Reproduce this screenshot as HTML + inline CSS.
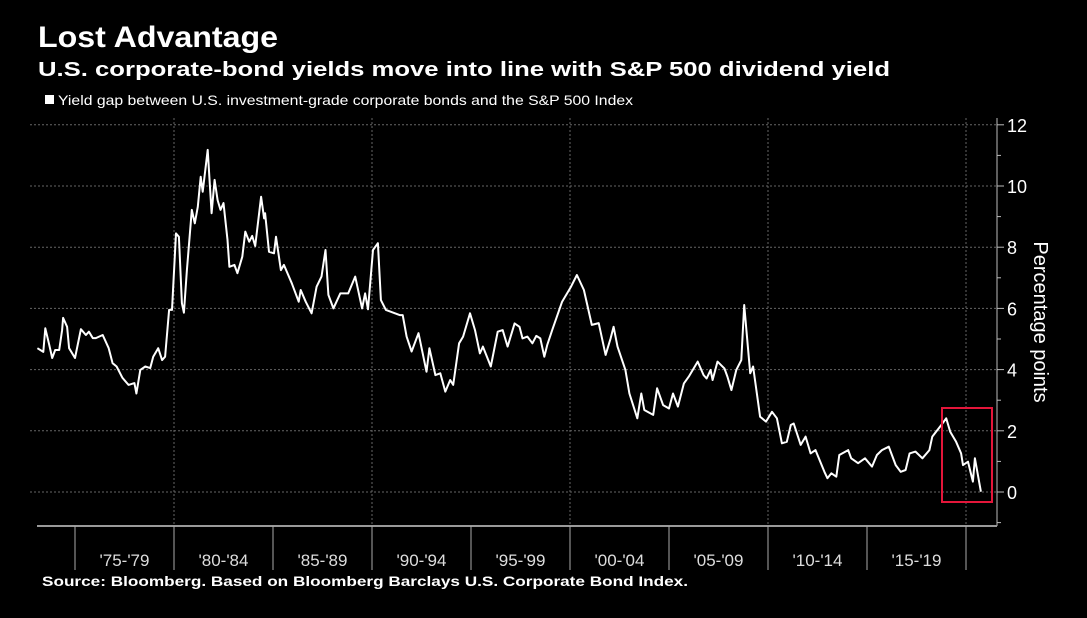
<!DOCTYPE html>
<html><head><meta charset="utf-8"><style>
html,body{margin:0;padding:0;background:#000;}
svg{display:block;font-family:"Liberation Sans",sans-serif;}
</style></head><body>
<svg id="chart" width="1087" height="618" viewBox="0 0 1087 618">
<rect width="1087" height="618" fill="#000"/>
<text x="38" y="47" fill="#fff" font-size="30" font-weight="bold" textLength="240" lengthAdjust="spacingAndGlyphs">Lost Advantage</text>
<text x="38" y="76" fill="#fff" font-size="20" font-weight="bold" textLength="852" lengthAdjust="spacingAndGlyphs">U.S. corporate-bond yields move into line with S&amp;P 500 dividend yield</text>
<rect x="45" y="95" width="9" height="9" fill="#fff"/>
<text x="58" y="105" fill="#fff" font-size="14" textLength="575" lengthAdjust="spacingAndGlyphs">Yield gap between U.S. investment-grade corporate bonds and the S&amp;P 500 Index</text>
<g id="grid"></g>
<g id="axes"></g>
<path id="line" fill="none" stroke="#fff" stroke-width="2" stroke-linejoin="round"/>
<rect x="942" y="408" width="50" height="94" fill="none" stroke="#e4163a" stroke-width="2"/>
<text transform="translate(1034,322) rotate(90)" fill="#fff" font-size="20" text-anchor="middle">Percentage points</text>
<text x="42" y="586" fill="#fff" font-size="14" font-weight="bold" textLength="646" lengthAdjust="spacingAndGlyphs">Source: Bloomberg. Based on Bloomberg Barclays U.S. Corporate Bond Index.</text>
</svg>
<script>
const years=[1973.1,1973.4,1973.5,1973.7,1973.85,1974.0,1974.2,1974.35,1974.4,1974.6,1974.7,1975.0,1975.3,1975.55,1975.7,1975.9,1976.05,1976.4,1976.7,1976.9,1977.1,1977.4,1977.7,1978.0,1978.1,1978.3,1978.55,1978.8,1978.95,1979.2,1979.4,1979.55,1979.75,1979.9,1980.1,1980.25,1980.4,1980.5,1980.65,1980.9,1981.05,1981.2,1981.35,1981.45,1981.7,1981.9,1982.05,1982.2,1982.35,1982.5,1982.7,1982.8,1983.05,1983.2,1983.45,1983.6,1983.8,1983.95,1984.1,1984.4,1984.55,1984.6,1984.8,1985.05,1985.15,1985.4,1985.55,1985.95,1986.3,1986.4,1986.65,1986.95,1987.2,1987.45,1987.65,1987.8,1988.05,1988.4,1988.8,1989.15,1989.5,1989.65,1989.8,1990.05,1990.3,1990.45,1990.7,1991.4,1991.55,1991.75,1992.0,1992.35,1992.75,1992.9,1993.2,1993.45,1993.7,1993.95,1994.1,1994.4,1994.6,1994.95,1995.2,1995.45,1995.6,1996.0,1996.35,1996.6,1996.85,1997.2,1997.45,1997.6,1997.85,1998.1,1998.3,1998.5,1998.7,1998.85,1999.1,1999.6,2000.05,2000.35,2000.7,2001.1,2001.45,2001.8,2002.05,2002.2,2002.4,2002.8,2003.0,2003.4,2003.6,2003.75,2004.2,2004.4,2004.7,2005.0,2005.2,2005.45,2005.75,2006.0,2006.45,2006.75,2006.9,2007.1,2007.2,2007.45,2007.8,2007.95,2008.15,2008.4,2008.65,2008.8,2009.1,2009.25,2009.6,2009.9,2010.2,2010.45,2010.7,2010.95,2011.15,2011.3,2011.65,2011.9,2012.15,2012.4,2012.85,2013.0,2013.2,2013.45,2013.6,2014.05,2014.2,2014.55,2014.9,2015.25,2015.5,2015.75,2016.1,2016.45,2016.7,2016.95,2017.15,2017.45,2017.8,2018.15,2018.3,2018.75,2019.0,2019.2,2019.5,2019.75,2019.85,2020.1,2020.35,2020.45,2020.75];
const values=[4.70,4.58,5.35,4.80,4.38,4.64,4.64,5.29,5.69,5.40,4.70,4.38,5.32,5.13,5.24,5.03,5.03,5.13,4.70,4.21,4.10,3.73,3.50,3.56,3.22,3.99,4.10,4.05,4.42,4.70,4.31,4.42,5.95,5.95,8.45,8.34,6.17,5.86,7.25,9.22,8.78,9.32,10.30,9.81,11.18,9.11,10.20,9.54,9.22,9.44,8.24,7.36,7.42,7.15,7.69,8.51,8.18,8.37,8.04,9.65,8.94,9.11,7.85,7.80,8.34,7.25,7.42,6.82,6.22,6.60,6.22,5.84,6.71,7.04,7.91,6.44,6.00,6.49,6.49,7.04,6.00,6.49,5.97,7.91,8.13,6.27,5.95,5.78,5.78,5.08,4.59,5.19,3.93,4.70,3.82,3.88,3.28,3.66,3.50,4.86,5.08,5.84,5.29,4.53,4.75,4.10,5.24,5.29,4.75,5.51,5.40,5.02,5.08,4.86,5.10,5.02,4.42,4.80,5.29,6.22,6.71,7.09,6.60,5.46,5.52,4.48,5.02,5.40,4.75,3.99,3.22,2.41,3.22,2.68,2.52,3.39,2.84,2.73,3.22,2.79,3.55,3.77,4.26,3.82,3.71,3.99,3.66,4.26,4.04,3.77,3.33,3.99,4.31,6.11,3.88,4.10,2.46,2.30,2.62,2.41,1.59,1.64,2.19,2.24,1.54,1.81,1.26,1.37,0.66,0.45,0.61,0.50,1.21,1.37,1.10,0.94,1.10,0.83,1.21,1.37,1.48,0.88,0.66,0.72,1.26,1.32,1.10,1.37,1.81,2.19,2.41,1.97,1.64,1.26,0.88,0.99,0.34,1.10,0.01];
const yTicks=[12,10,8,6,4,2,0];
const xCategories=["'75-'79","'80-'84","'85-'89","'90-'94","'95-'99","'00-'04","'05-'09","'10-'14","'15-'19"];
const catStart=[1975,1980,1985,1990,1995,2000,2005,2010,2015,2020];

const X=y=>174+(y-1980)*19.8;
const Y=v=>492-v*30.6;
const NS='http://www.w3.org/2000/svg';
function mk(tag,attrs,parent){const e=document.createElementNS(NS,tag);for(const k in attrs)e.setAttribute(k,attrs[k]);parent.appendChild(e);return e;}
const grid=document.getElementById('grid'),axes=document.getElementById('axes');
yTicks.forEach(t=>{
  const g=mk('line',{x1:30,x2:997,y1:Y(t),y2:Y(t),stroke:'#666','stroke-width':1,'stroke-dasharray':'2,2'},grid);
  
  
  const tk=mk('line',{x1:997,x2:1004,y1:Y(t),y2:Y(t),stroke:'#bbb','stroke-width':1},axes);
  
  
  const lb=mk('text',{x:1007,y:Y(t)+7,fill:'#fff','font-size':18},axes);
  lb.textContent=t;
  
  
});
[11,9,7,5,3,1,-1].forEach(t=>{
  const tk=mk('line',{x1:997,x2:1001,y1:Y(t),y2:Y(t),stroke:'#bbb','stroke-width':1},axes);
  
  
});
[1980,1990,2000,2010,2020].forEach(yr=>{
  const g=mk('line',{x1:X(yr),x2:X(yr),y1:118,y2:526,stroke:'#666','stroke-width':1,'stroke-dasharray':'2,2'},grid);
  
  
});
const ya=mk('line',{x1:997,x2:997,y1:118,y2:526,stroke:'#bbb','stroke-width':1},axes);


const xa=mk('line',{x1:37,x2:997,y1:526,y2:526,stroke:'#999','stroke-width':2},axes);


catStart.forEach(yr=>{
  const tk=mk('line',{x1:X(yr),x2:X(yr),y1:526,y2:570,stroke:'#aaa','stroke-width':1},axes);
  
  
});
xCategories.forEach((c,i)=>{
  const lb=mk('text',{x:(X(catStart[i])+X(catStart[i+1]))/2,y:566,fill:'#ddd','font-size':17,'text-anchor':'middle'},axes);
  lb.textContent=c;
  
  
});
document.getElementById('line').setAttribute('d',years.map((y,i)=>(i?'L':'M')+X(y).toFixed(1)+','+Y(values[i]).toFixed(1)).join(''));
</script>
</body></html>
